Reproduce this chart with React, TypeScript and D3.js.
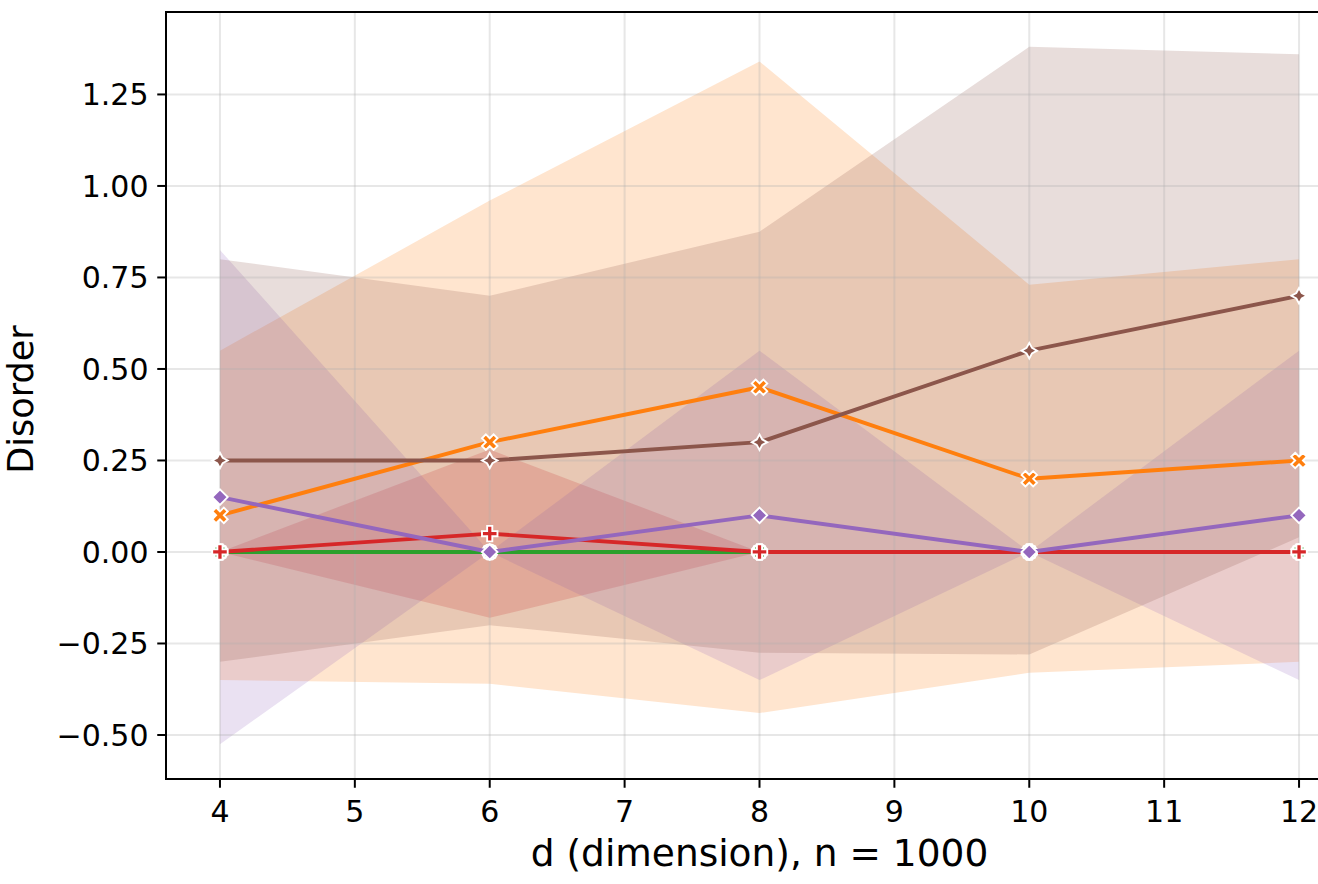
import React, { useEffect } from 'react';
import * as d3 from 'd3';

// ---- data ----
const xValues = [4, 6, 8, 10, 12];
const xTicks = [4, 5, 6, 7, 8, 9, 10, 11, 12];
const yTicks = [-0.5, -0.25, 0, 0.25, 0.5, 0.75, 1.0, 1.25];

const blueMean = [0, 0, 0, 0, 0];
const blueLower = [0, 0, 0, 0, 0];
const blueUpper = [0, 0, 0, 0, 0];

const orangeMean = [0.1, 0.3, 0.45, 0.2, 0.25];
const orangeLower = [-0.35, -0.36, -0.44, -0.33, -0.3];
const orangeUpper = [0.55, 0.96, 1.34, 0.73, 0.8];

const greenMean = [0, 0, 0, 0, 0];
const greenLower = [0, 0, 0, 0, 0];
const greenUpper = [0, 0, 0, 0, 0];

const redMean = [0, 0.05, 0, 0, 0];
const redLower = [0, -0.18, 0, 0, 0];
const redUpper = [0, 0.28, 0, 0, 0];

const purpleMean = [0.15, 0, 0.1, 0, 0.1];
const purpleLower = [-0.525, 0, -0.35, 0, -0.35];
const purpleUpper = [0.825, 0, 0.55, 0, 0.55];

const brownMean = [0.25, 0.25, 0.3, 0.55, 0.7];
const brownLower = [-0.3, -0.2, -0.275, -0.28, 0.04];
const brownUpper = [0.8, 0.7, 0.875, 1.38, 1.36];

const seriesColors = ['#1f77b4', '#ff7f0e', '#2ca02c', '#d62728', '#9467bd', '#8c564b'];
const seriesMarkers = ['circle', 'x', 'square', 'plus', 'diamond', 'star'];

const xLabel = 'd (dimension), n = 1000';
const yLabel = 'Disorder';

const series = [
  { mean: blueMean, lower: blueLower, upper: blueUpper },
  { mean: orangeMean, lower: orangeLower, upper: orangeUpper },
  { mean: greenMean, lower: greenLower, upper: greenUpper },
  { mean: redMean, lower: redLower, upper: redUpper },
  { mean: purpleMean, lower: purpleLower, upper: purpleUpper },
  { mean: brownMean, lower: brownLower, upper: brownUpper },
].map((s, i) => ({ ...s, color: seriesColors[i], marker: seriesMarkers[i] }));

// ---- layout ----
const W = 1318;
const H = 884;
const L = 166;
const T = 12;
const R = 1353;
const B = 779;
const MS = 15.5; // marker size px
const LW = 3.9;
const EW = 1.9;
const TICK = 8.75;
const FONT = 'DejaVu Sans, sans-serif';

function poly(pts: number[][]): string {
  return 'M' + pts.map((p) => `${p[0].toFixed(3)},${p[1].toFixed(3)}`).join('L') + 'Z';
}

function markerPath(type: string, s: number): string {
  if (type === 'x') {
    const p = [[-1, -2], [0, -1], [1, -2], [2, -1], [1, 0], [2, 1], [1, 2], [0, 1], [-1, 2], [-2, 1], [-1, 0], [-2, -1]];
    return poly(p.map(([a, b]) => [(a / 4) * s, (b / 4) * s]));
  }
  if (type === 'plus') {
    const p = [[-1, -3], [1, -3], [1, -1], [3, -1], [3, 1], [1, 1], [1, 3], [-1, 3], [-1, 1], [-3, 1], [-3, -1], [-1, -1]];
    return poly(p.map(([a, b]) => [(a / 6) * s, (b / 6) * s]));
  }
  if (type === 'square') {
    const h = (s * 0.5) / Math.SQRT2;
    return poly([[-h, -h], [h, -h], [h, h], [-h, h]]);
  }
  if (type === 'diamond') {
    const r = s / 2;
    return poly([[0, -r], [r, 0], [0, r], [-r, 0]]);
  }
  if (type === 'star') {
    const pts: number[][] = [];
    for (let k = 0; k < 8; k++) {
      const r = k % 2 === 0 ? s / 2 : s / 4;
      const a = -Math.PI / 2 + (k * Math.PI) / 4;
      pts.push([r * Math.cos(a), r * Math.sin(a)]);
    }
    return poly(pts);
  }
  const r = s / 2;
  return `M${r},0A${r},${r} 0 1,1 ${-r},0A${r},${r} 0 1,1 ${r},0Z`;
}

function fmtY(v: number): string {
  const s = Math.abs(v).toFixed(2);
  return v < 0 ? '\u2212' + s : s;
}

export default function App() {
  useEffect(() => {
    document.body.style.margin = '0';
  }, []);

  const allVals = series.flatMap((s) => [...s.lower, ...s.upper, ...s.mean]);
  const yMin = d3.min(allVals) as number;
  const yMax = d3.max(allVals) as number;
  const yPad = (yMax - yMin) * 0.05;
  const xMin = d3.min(xValues) as number;
  const xMax = d3.max(xValues) as number;
  const xPad = (xMax - xMin) * 0.05;

  const x = d3.scaleLinear().domain([xMin - xPad, xMax + xPad]).range([L, R]);
  const y = d3.scaleLinear().domain([yMin - yPad, yMax + yPad]).range([B, T]);

  const line = d3
    .line<number>()
    .x((_, i) => x(xValues[i]))
    .y((d) => y(d));

  return (
    <svg width={W} height={H} style={{ position: 'absolute', left: 0, top: 0, display: 'block' }} fontFamily={FONT}>
      <rect x={0} y={0} width={W} height={H} fill="#ffffff" />
      <defs>
        <clipPath id="plotClip">
          <rect x={L} y={T} width={R - L} height={B - T} />
        </clipPath>
      </defs>
      {/* bands */}
      <g clipPath="url(#plotClip)">
        {series.map((s, i) => {
          const a = d3
            .area<number>()
            .x((_, j) => x(xValues[j]))
            .y0((_, j) => y(s.lower[j]))
            .y1((_, j) => y(s.upper[j]));
          return <path key={'b' + i} d={a(s.mean) || ''} fill={s.color} fillOpacity={0.2} stroke="none" />;
        })}
      </g>
      {/* grid */}
      <g stroke="#b0b0b0" strokeOpacity={0.3} strokeWidth={2}>
        {xTicks.map((t) => (
          <line key={'gx' + t} x1={x(t)} x2={x(t)} y1={T} y2={B} />
        ))}
        {yTicks.map((t) => (
          <line key={'gy' + t} x1={L} x2={R} y1={y(t)} y2={y(t)} />
        ))}
      </g>
      {/* lines + markers */}
      <g>
        {series.map((s, i) => (
          <g key={'l' + i}>
            <path d={line(s.mean) || ''} fill="none" stroke={s.color} strokeWidth={LW} strokeLinejoin="round" strokeLinecap="square" />
            {s.mean.map((v, j) => (
              <path
                key={j}
                d={markerPath(s.marker, MS)}
                transform={`translate(${x(xValues[j])},${y(v)})`}
                fill={s.color}
                stroke="#ffffff"
                strokeWidth={EW}
                strokeLinejoin="miter"
              />
            ))}
          </g>
        ))}
      </g>
      {/* spines */}
      <g stroke="#000000" strokeWidth={2} fill="none" strokeLinecap="square">
        <line x1={L} x2={L} y1={T} y2={B} />
        <line x1={L} x2={R} y1={B} y2={B} />
        <line x1={L} x2={R} y1={T} y2={T} />
        <line x1={R} x2={R} y1={T} y2={B} />
      </g>
      {/* x ticks */}
      <g>
        {xTicks.map((t) => (
          <g key={'xt' + t} transform={`translate(${x(t)},0)`}>
            <line y1={B} y2={B + TICK} stroke="#000" strokeWidth={2} />
            <text y={822} textAnchor="middle" fontSize={30} fill="#000">
              {String(t)}
            </text>
          </g>
        ))}
      </g>
      {/* y ticks */}
      <g>
        {yTicks.map((t) => (
          <g key={'yt' + t} transform={`translate(0,${y(t)})`}>
            <line x1={L - TICK} x2={L} stroke="#000" strokeWidth={2} />
            <text x={L - TICK - 8.75} y={11} textAnchor="end" fontSize={30} fill="#000">
              {fmtY(t)}
            </text>
          </g>
        ))}
      </g>
      {/* labels */}
      <text x={(L + R) / 2} y={866} textAnchor="middle" fontSize={37.5} fill="#000">
        {xLabel}
      </text>
      <text transform={`translate(33,${(T + B) / 2 + 4}) rotate(-90)`} textAnchor="middle" fontSize={35} fill="#000">
        {yLabel}
      </text>
    </svg>
  );
}
